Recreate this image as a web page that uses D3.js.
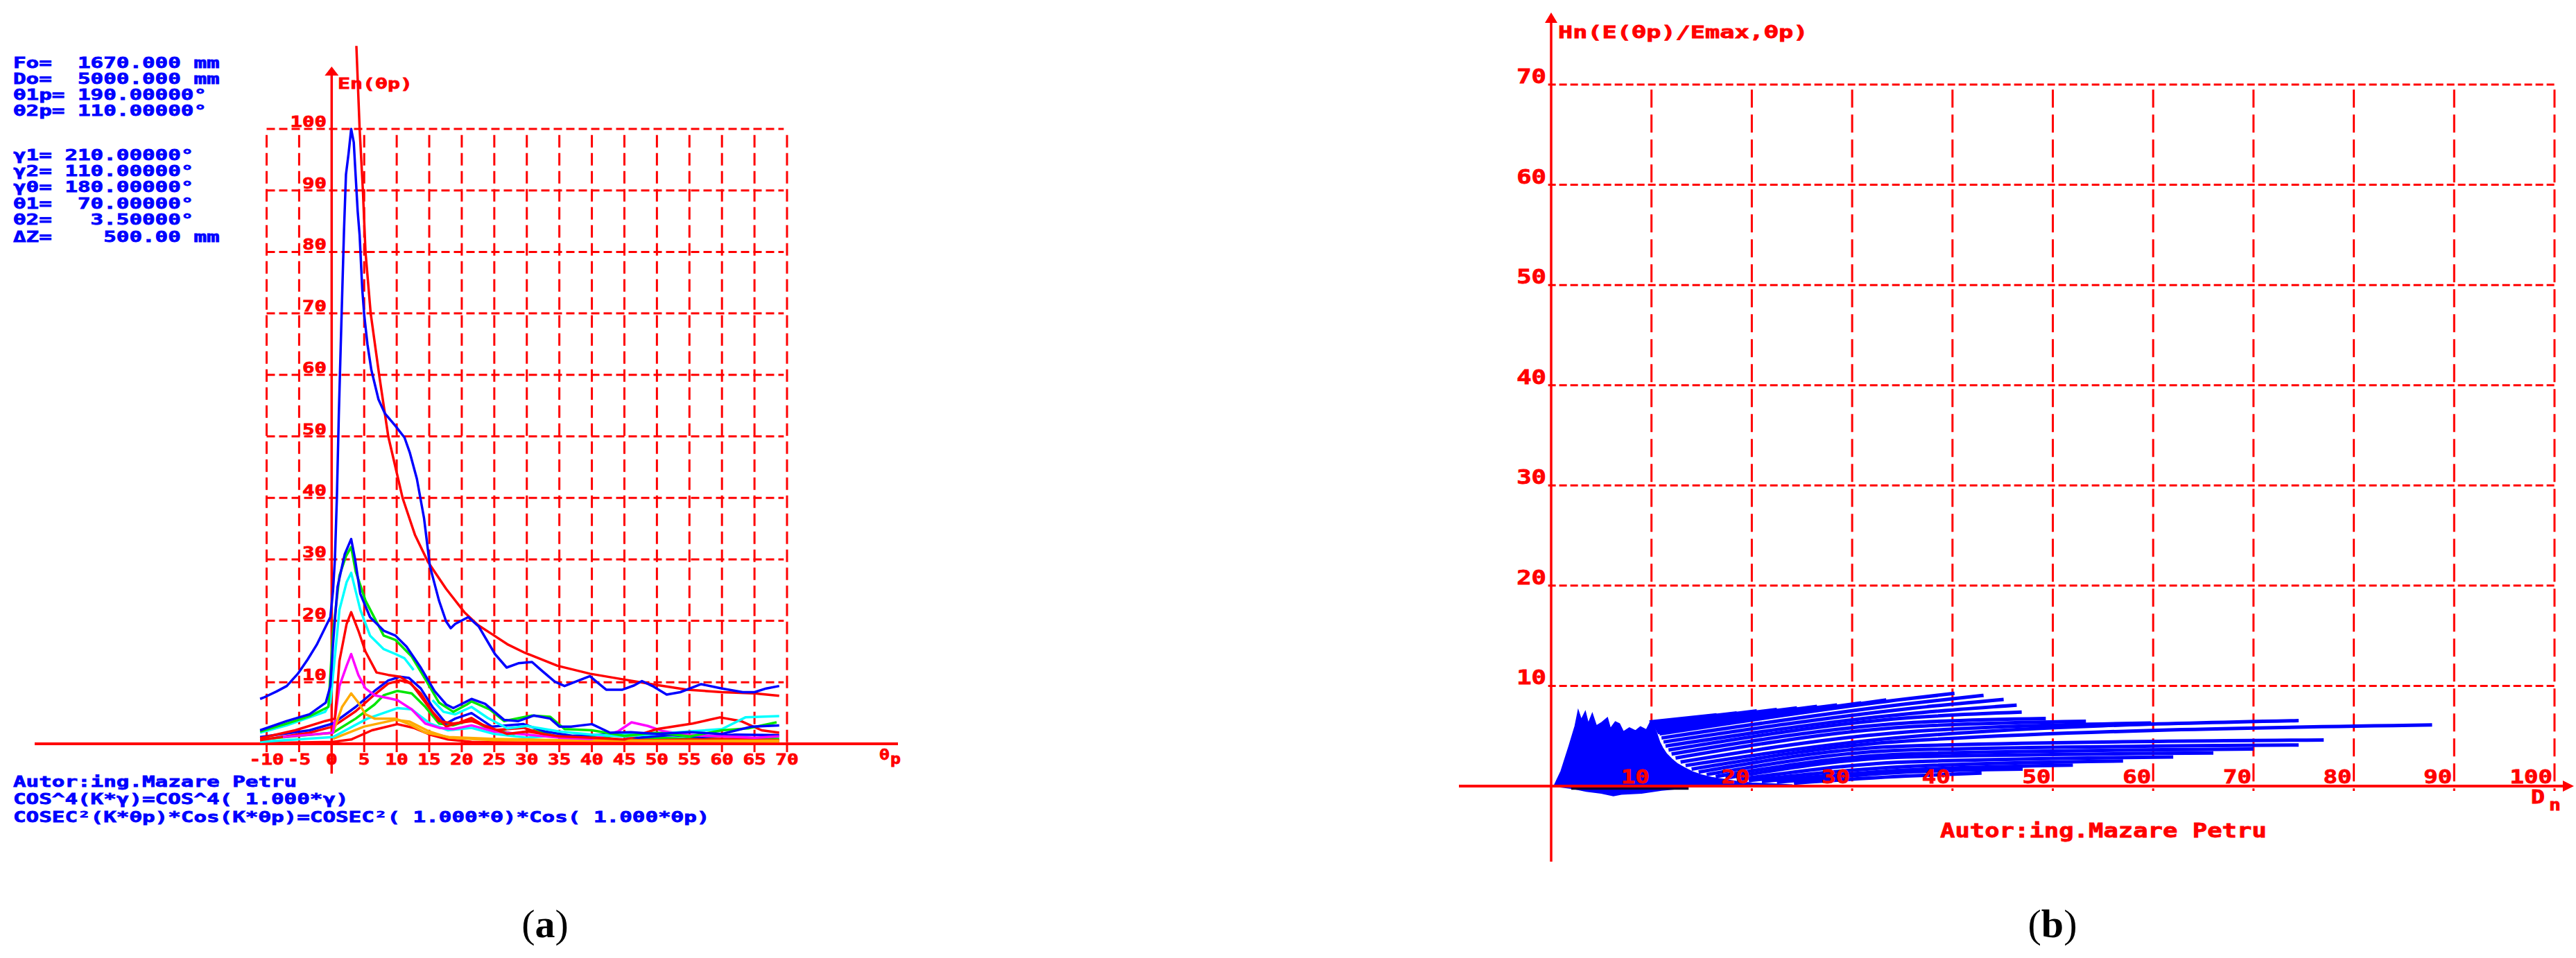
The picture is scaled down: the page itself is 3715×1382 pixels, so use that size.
<!DOCTYPE html>
<html><head><meta charset="utf-8">
<script src="https://cdn.jsdelivr.net/npm/d3@7"></script>
<style>html,body{margin:0;padding:0;background:#fff;}svg{display:block;}</style>
</head><body>
<svg id="c" width="3715" height="1382"></svg>
<script>
// ---------------- DATA : panel (a) ----------------
const thetaTicks = [-10,-5,0,5,10,15,20,25,30,35,40,45,50,55,60,65,70];
const enTicks = [10,20,30,40,50,60,70,80,90,100];
const paramLines = ["Fo=  1670.000 mm","Do=  5000.000 mm","θ1p= 190.00000°","θ2p= 110.00000°",
  "","γ1= 210.00000°","γ2= 110.00000°","γ0= 180.00000°","θ1=  70.00000°","θ2=   3.50000°","ΔZ=    500.00 mm"];
const footLines = ["Autor:ing.Mazare Petru","COS^4(K*γ)=COS^4( 1.000*γ)",
  "COSEC²(K*θp)*Cos(K*θp)=COSEC²( 1.000*θ)*Cos( 1.000*θp)"];

const enRef = [[3.8,113.5],[4.3,100],[4.8,90],[5.2,80],[6.0,70],[7.3,60],[8.7,50],[10.9,40],[12.8,34],[14.8,29.6],[17.6,25.2],[20.4,21.4],[22.5,19.3],[24.7,17.8],[27,16.2],[29.7,14.8],[34.7,12.7],[39.7,11.4],[44.7,10.5],[49.7,9.6],[54.7,8.8],[60,8.4],[65,8.2],[68.8,7.8]];
const enMain = [[-11,7.3],[-10.5,7.5],[-8.5,8.5],[-6.9,9.4],[-5.2,11.4],[-3.7,13.7],[-2.3,16.1],[-0.9,19.1],[-0.2,20.6],[0.2,24.8],[0.5,30],[0.8,40],[1.1,53.5],[1.4,65],[1.9,83.6],[2.2,92.6],[2.6,96],[3.0,100],[3.4,97.8],[3.6,94],[4.0,86.6],[4.3,82.7],[4.7,74],[5.0,69.8],[5.5,65],[6.1,60.8],[7.2,56],[8.2,53.7],[9.8,51.7],[11.2,49.8],[12.0,47.4],[13.1,43.1],[14.2,36.7],[15.1,28.9],[16.5,23.3],[17.6,19.9],[18.3,18.8],[19.0,19.5],[21.0,20.6],[22.6,19.1],[25.1,14.6],[26.9,12.4],[28.7,13.1],[30.8,13.3],[32.2,12.0],[34.3,10.1],[35.8,9.4],[37.5,10.1],[39.7,11.0],[40.7,10.1],[42.2,8.8],[44.7,8.8],[46.5,9.5],[47.7,10.2],[49.3,9.4],[51.5,8.0],[53.6,8.4],[56.8,9.7],[60,9.0],[63.2,8.4],[65,8.4],[66.8,9.0],[68.8,9.4]];
const enBlue2 = [[-11,2.2],[-6.9,3.7],[-3.4,4.8],[-0.9,6.7],[-0.2,9.4],[0.2,16.1],[0.9,25.5],[2.0,30.8],[3.0,33.3],[3.6,30],[4.4,24.4],[5.9,20.6],[8.0,18.4],[9.8,17.6],[11.5,15.8],[13.7,12.4],[15.8,8.6],[17.6,6.4],[18.7,5.8],[20.4,6.7],[21.5,7.3],[23.6,6.5],[26.5,3.9],[28.7,3.7],[31.1,4.6],[33.6,4.1],[35,2.8],[36.8,2.8],[40,3.2],[42.8,1.8],[46,1.9],[50,1.6],[55,1.9],[60,1.6],[64.6,2.8],[68.8,3.0]];
const enGreen = [[-11,2.0],[-6.9,3.3],[-3.4,4.5],[-0.5,6.0],[0.2,18],[1.2,27.4],[2.2,30.5],[3.0,32],[3.7,28],[5.2,23.3],[8.0,17.6],[9.8,16.9],[12.3,14.2],[14.4,10.5],[16.5,6.7],[18.7,5.2],[20.8,6.4],[21.5,6.9],[24.3,5.6],[26.5,3.7],[30.8,4.6],[33.6,4.4],[35.8,2.4],[40,2.2],[45,1.3],[50,1.8],[55,1.2],[60,2.2],[64,2.5],[68.4,3.5]];
const enCyan = [[-11,1.8],[-6.9,3.0],[-1,5.2],[-0.2,6.7],[1.2,21.8],[2.3,26.3],[3.0,27.8],[4.4,21.8],[5.9,17.6],[8.0,15.4],[9.8,14.6],[11.2,13.9],[12.6,12.0],null,[15.5,7.1],[17.2,5.2],[19.0,4.8],[21.5,6.0],[24,4.2],[27,2.5],[30,2.9],[35,2.0],[40,1.5],[45,1.2],[50,1.6],[55,2.0],[60,2.4],[63.6,4.3],[68.8,4.5]];
const enRed2 = [[-11,0.9],[-5.6,2.2],[-1,3.7],[0.5,4.1],[1.2,13.5],[2.3,19.5],[3.0,21.4],[4.1,18.4],[5.2,15.0],[6.9,11.6],[8.7,11.2],[10.5,10.9],[12.3,9.7],[14.4,6.7],[16.5,3.7],[18.7,3.3],[21.5,3.7],[24,2.8],[27,1.6],[30,2.0],[35,1.2],[40,1.0],[45,0.7],[50,2.4],[55.5,3.3],[59.7,4.3],[62.9,3.7],[66.1,2.2],[68.8,1.8]];
const enMagenta = [[-7.5,1.1],[0.2,1.8],[1.2,9.4],[2.3,12.7],[3.0,14.6],[4.1,11.2],[5.2,9.0],[6.6,7.9],[8.4,7.5],[10.1,7.1],[12.3,5.6],[14.4,3.3],[16.5,2.6],[18.7,2.4],[21.5,3.0],[25,2.0],[30,1.5],[35,1.0],[40,0.8],[44,2.0],[46.1,3.5],[48.6,2.9],[50.8,2.1],[55,1.4],[60,1.2],[65,1.0],[68.8,1.2]];
const enOrange = [[0.2,1.8],[1.6,6.0],[3.0,8.2],[4.1,6.7],[5.2,4.8],[6.6,4.1],[9.8,4.1],[12.3,3.0],[14.4,1.8],[18,1.1],[25,0.8],[35,0.6],[50,0.5],[68.8,0.5]];
const enBlueB = [[-11,1.1],[-3.4,2.2],[0.2,3.3],[3.7,6.0],[6.6,8.6],[8.7,10.3],[10.5,10.9],[11.9,10.7],[13.7,9.0],[15.5,6.0],[17.6,3.3],[19.0,4.1],[21.5,5.0],[24.6,2.8],[29.5,3.2],[32.8,2.0],[37,1.3],[42,1.5],[47,1.0],[52,1.4],[57,1.1],[62,1.5],[68.8,1.4]];
const enRedB = [[-11,0.6],[-3.4,1.8],[0.2,2.8],[3.7,5.3],[6.6,8.0],[8.7,9.8],[10.5,10.3],[12,9.9],[13.7,8.2],[15.5,5.2],[17.6,2.8],[19.5,3.4],[21.5,4.2],[24.6,2.2],[29.5,2.6],[33,1.4],[40,0.8],[50,0.6],[60,0.8],[68.8,0.6]];
const enGreenB = [[-11,0.7],[0.2,1.8],[3.7,4.1],[6.6,6.4],[8.0,7.9],[10.1,8.6],[12.3,8.2],[14.4,6.0],[16.5,3.3],[18.7,3.0],[21.5,3.9],[24,2.5],[28,1.6],[31,2.2],[35,1.1],[40,1.3],[45,0.6],[50,1.0],[55,0.8],[60,1.2],[65,0.9],[68.8,0.8]];
const enCyanB = [[-11,0.3],[0.2,1.1],[5.5,4.1],[10.1,5.8],[12.3,5.6],[15.1,3.3],[17.9,2.2],[21.5,2.6],[25,1.6],[30,1.0],[35,1.4],[40,0.9],[45,1.7],[50,1.1],[55,0.8],[60,0.6],[65,0.8],[68.8,0.7]];
const enOrangeB = [[0.2,0.8],[5,2.8],[9.8,3.9],[12,3.6],[15,2.0],[18,1.0],[25,0.6],[40,0.5],[68.8,0.4]];
const enRedLow = [[-11,0.1],[0.2,0.3],[3.0,0.7],[6.2,2.2],[10.1,3.2],[12.6,2.6],[15.1,1.5],[17.9,0.7],[21.5,0.3],[30,0.2],[50,0.1],[68.8,0.2]];

// ---------------- DATA : panel (b) ----------------
const dnTicks = [10,20,30,40,50,60,70,80,90,100];
const hnTicks = [10,20,30,40,50,60,70];
const blobOutline = [[0.3,0],[1.0,1.5],[1.8,4.0],[2.4,6.0],[2.7,7.5],[3.0,6.6],[3.4,7.4],[3.7,6.2],[4.1,7.2],[4.5,6.0],[5.0,6.3],[5.6,6.8],[5.9,5.7],[6.4,6.4],[6.8,6.2],[7.2,5.4],[7.8,5.8],[8.4,5.5],[8.9,5.9],[9.5,5.6],[9.9,6.4],[10.3,5.8],[10.6,5.0],[10.8,4.4],[11.1,3.8],[11.5,3.2],[12.0,2.7],[12.6,2.2],[13.3,1.8],[14.1,1.4],[15.0,1.1],[16.0,0.85],[17.2,0.65],[18.5,0.45],[20,0.3],[22,0.2],[24,0.1],[24,0],[14,0],[13,-0.2],[11,-0.4],[9,-0.7],[7,-0.8],[6.2,-0.95],[5,-0.7],[3.5,-0.5],[2,-0.2],[0.3,0]];
// fan strokes: [start, (crossing at Dn=35.4), end]
const fanLines = [
  [[9.8,6.4],[16.5,7.1]],
  [[9.9,6.3],[18.5,7.3]],
  [[10.0,6.2],[20.5,7.5]],
  [[10.1,6.1],[22.5,7.65]],
  [[10.2,6.0],[24.5,7.8]],
  [[10.3,5.85],[26.5,7.95]],
  [[10.4,5.7],[28.5,8.1]],
  [[10.5,5.5],[30.9,8.3]],
  [[10.6,5.35],[33.4,8.6]],
  [[10.8,5.2],[35.4,8.7],[40.2,9.25]],
  [[11.0,4.8],[35.4,8.2],[43.1,9.05]],
  [[11.2,4.4],[35.4,7.7],[45.1,8.65]],
  [[11.4,4.0],[35.4,7.2],[46.4,8.07]],
  [[11.7,3.6],[35.4,6.8],[46.9,7.38]],
  [[12.0,3.2],[35.4,6.3],[49.3,6.75]],
  [[12.4,2.8],[35.4,5.9],[53.3,6.47]],
  [[12.9,2.4],[35.4,5.4],[59.8,6.3]],
  [[13.4,2.05],[35.4,4.9],[74.5,6.53]],
  [[14.0,1.7],[35.4,4.5],[87.8,6.1]],
  [[14.7,1.4],[35.4,4.0],[77.0,4.6]],
  [[15.5,1.15],[35.4,3.6],[74.5,4.1]],
  [[16.4,0.95],[35.4,3.2],[70.0,3.7]],
  [[17.4,0.8],[35.4,2.9],[66.0,3.3]],
  [[18.5,0.65],[35.4,2.4],[62.0,2.9]],
  [[19.7,0.55],[35.4,1.95],[57.0,2.5]],
  [[21.0,0.45],[35.4,1.6],[52.0,2.1]],
  [[22.5,0.38],[35.4,1.4],[47.0,1.7]],
  [[24.2,0.3],[35.4,1.0],[42.9,1.3]]
];
const darkStrip = [[2,-0.22],[13.7,-0.22]];

// ---------------- DRAWING ----------------
const svg = d3.select('#c');
const RED = '#ff0000', BLUE = '#0000ff';
const MONO = "'DejaVu Sans Mono', 'Liberation Mono', monospace";

function txt(g, str, x, y, size, cw, fill, anchor, sw) {
  return g.append('text').attr('x', x).attr('y', y)
    .attr('font-family', MONO).attr('font-weight', 'bold').attr('font-size', size)
    .attr('fill', fill).attr('stroke', fill).attr('stroke-width', sw === undefined ? 0.8 : sw)
    .attr('text-anchor', anchor || 'start')
    .attr('textLength', [...str].length * cw).attr('lengthAdjust', 'spacingAndGlyphs')
    .attr('xml:space', 'preserve').style('white-space', 'pre').text(str);
}

// ===== Panel (a) =====
const xA = d3.scaleLinear().domain([-10, 70]).range([384.5, 1135]);
const yA = d3.scaleLinear().domain([0, 100]).range([1073, 186]);
const gA = svg.append('g');

gA.append('g').selectAll('line').data(enTicks).join('line')
  .attr('x1', xA(-10)).attr('x2', xA(69.5)).attr('y1', d => yA(d)).attr('y2', d => yA(d))
  .attr('stroke', RED).attr('stroke-width', 3).attr('stroke-dasharray', '12,6');
gA.append('g').selectAll('line').data(thetaTicks.filter(d => d !== 0)).join('line')
  .attr('x1', d => xA(d)).attr('x2', d => xA(d)).attr('y1', yA(99)).attr('y2', yA(0))
  .attr('stroke', RED).attr('stroke-width', 3).attr('stroke-dasharray', '18,8');
gA.append('g').selectAll('line').data(thetaTicks).join('line')
  .attr('x1', d => xA(d)).attr('x2', d => xA(d)).attr('y1', yA(0)).attr('y2', yA(0) + 12)
  .attr('stroke', RED).attr('stroke-width', 3);

gA.append('line').attr('x1', 50).attr('x2', 1295).attr('y1', yA(0)).attr('y2', yA(0))
  .attr('stroke', RED).attr('stroke-width', 4);
gA.append('line').attr('x1', xA(0)).attr('x2', xA(0)).attr('y1', 106).attr('y2', 1116)
  .attr('stroke', RED).attr('stroke-width', 3.5);
gA.append('path').attr('d', `M${xA(0)},96 L${xA(0) - 10},109 L${xA(0) + 10},109 Z`).attr('fill', RED);

const lineA = d3.line().defined(d => d !== null).x(d => xA(d[0])).y(d => yA(d[1]));
const seriesA = [
  {d: enRedLow, c: RED}, {d: enOrangeB, c: '#ffaa00'}, {d: enCyanB, c: '#00ffff'},
  {d: enGreenB, c: '#00e600'}, {d: enRedB, c: RED}, {d: enBlueB, c: BLUE},
  {d: enOrange, c: '#ffaa00'}, {d: enMagenta, c: '#ff00ff'}, {d: enRed2, c: RED},
  {d: enCyan, c: '#00ffff'}, {d: enGreen, c: '#00e600'}, {d: enBlue2, c: BLUE},
  {d: enRef, c: RED}, {d: enMain, c: BLUE}
];
gA.append('g').selectAll('path').data(seriesA).join('path')
  .attr('d', s => lineA(s.d)).attr('fill', 'none').attr('stroke', s => s.c)
  .attr('stroke-width', 3.5).attr('stroke-linejoin', 'round');

enTicks.forEach(v => txt(gA, String(v), 471, yA(v) - 3, 22, 17.5, RED, 'end'));
thetaTicks.forEach(v => txt(gA, String(v), xA(v), 1103, 22, 16.7, RED, 'middle'));
txt(gA, 'En(θp)', 487, 128, 22, 18, RED);
txt(gA, 'θ', 1268, 1096, 22, 15, RED);
txt(gA, 'p', 1284, 1102, 22, 15, RED);

const paramY = [98, 121, 144, 167, 0, 231, 254, 277, 301, 324, 349];
paramLines.forEach((s, i) => { if (s) txt(gA, s, 19, paramY[i], 22, 18.6, BLUE); });
const footY = [1135, 1160, 1186];
footLines.forEach((s, i) => txt(gA, s, 19, footY[i], 22, 18.6, BLUE));

// ===== Panel (b) =====
const xB = d3.scaleLinear().domain([0, 100]).range([2237, 3684]);
const yB = d3.scaleLinear().domain([0, 70]).range([1134, 122]);
const gB = svg.append('g');

gB.append('g').selectAll('line').data(hnTicks).join('line')
  .attr('x1', xB(-0.3)).attr('x2', xB(100)).attr('y1', d => yB(d)).attr('y2', d => yB(d))
  .attr('stroke', RED).attr('stroke-width', 3).attr('stroke-dasharray', '11,5');
gB.append('g').selectAll('line').data(dnTicks).join('line')
  .attr('x1', d => xB(d)).attr('x2', d => xB(d)).attr('y1', yB(69.5)).attr('y2', yB(0) + 7)
  .attr('stroke', RED).attr('stroke-width', 3).attr('stroke-dasharray', '26,10');

const lineB = d3.line().x(d => xB(d[0])).y(d => yB(d[1]));
gB.append('path').attr('d', lineB(blobOutline) + 'Z').attr('fill', BLUE).attr('stroke', BLUE).attr('stroke-width', 2);
gB.append('path').attr('d', lineB(darkStrip)).attr('stroke', '#000033').attr('stroke-width', 4);
const fanCurve = d3.line().curve(d3.curveMonotoneX).x(d => xB(d[0])).y(d => yB(d[1]));
gB.append('g').selectAll('path').data(fanLines).join('path')
  .attr('d', d => fanCurve(d)).attr('fill', 'none').attr('stroke', BLUE).attr('stroke-width', 5);

gB.append('line').attr('x1', 2104).attr('x2', 3698).attr('y1', yB(0)).attr('y2', yB(0))
  .attr('stroke', RED).attr('stroke-width', 4);
gB.append('path').attr('d', `M3712,${yB(0)} L3696,${yB(0) - 8} L3696,${yB(0) + 8} Z`).attr('fill', RED);
gB.append('line').attr('x1', xB(0)).attr('x2', xB(0)).attr('y1', 30).attr('y2', 1243)
  .attr('stroke', RED).attr('stroke-width', 3.5);
gB.append('path').attr('d', `M${xB(0)},18 L${xB(0) - 9},33 L${xB(0) + 9},33 Z`).attr('fill', RED);

hnTicks.forEach(v => txt(gB, String(v), 2230, yB(v) - 2, 28, 21.4, RED, 'end'));
dnTicks.forEach(v => txt(gB, String(v), xB(v) - 3, 1130, 27, 20.5, RED, 'end'));
txt(gB, 'Hn(E(θp)/Emax,θp)', 2247, 55, 25, 21.2, RED);
txt(gB, 'D', 3650, 1159, 26, 20, RED);
txt(gB, 'n', 3676, 1169, 23, 17, RED);
txt(gB, 'Autor:ing.Mazare Petru', 2798, 1208, 28, 21.4, RED);

// ===== captions =====
[['a', 786], ['b', 2960]].forEach(([l, x]) => {
  const t = svg.append('text').attr('x', x).attr('y', 1352).attr('text-anchor', 'middle')
    .attr('font-family', "'Liberation Serif', 'Times New Roman', serif").attr('font-size', 58).attr('fill', '#000');
  t.append('tspan').text('(');
  t.append('tspan').attr('font-weight', 'bold').text(l);
  t.append('tspan').text(')');
});
</script>
</body></html>
